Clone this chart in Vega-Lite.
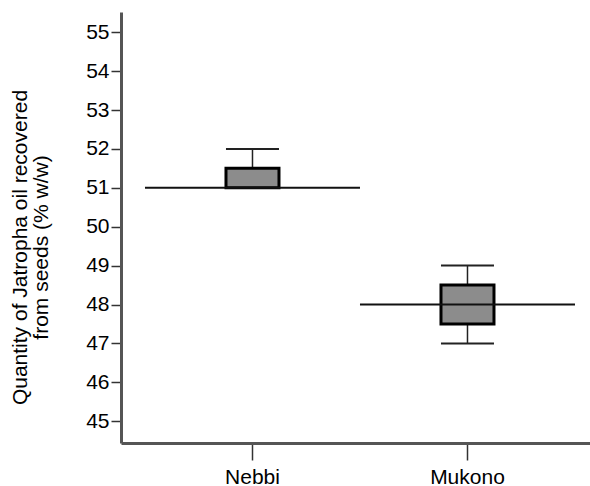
{
  "$schema": "https://vega.github.io/schema/vega-lite/v6.json",
  "width": 469,
  "height": 431,
  "autosize": "none",
  "padding": {"left": 121, "top": 12, "right": 0, "bottom": 43},
  "config": {"view": {"stroke": null}, "font": "Liberation Sans"},
  "data": {"values": [
    {"region": "Nebbi", "lower": 51, "q1": 51, "median": 51, "q3": 51.5, "upper": 52},
    {"region": "Mukono", "lower": 47, "q1": 47.5, "median": 48, "q3": 48.5, "upper": 49}
  ]},
  "encoding": {
    "x": {
      "field": "region", "type": "nominal", "sort": ["Nebbi", "Mukono"],
      "scale": {"paddingInner": 0, "paddingOuter": 0.0907, "align": 0.615},
      "axis": {
        "title": null, "labelAngle": 0, "labelFontSize": 21, "labelColor": "#000",
        "domainColor": "#555", "domainWidth": 3, "tickSize": 17, "tickColor": "#333",
        "tickWidth": 1.5, "labelPadding": 6, "grid": false
      }
    }
  },
  "layer": [
    {
      "mark": {"type": "rule", "color": "#222", "strokeWidth": 1.5},
      "encoding": {
        "y": {
          "field": "lower", "type": "quantitative",
          "scale": {"domain": [44.44, 55.52], "nice": false, "zero": false},
          "axis": {
            "values": [45, 46, 47, 48, 49, 50, 51, 52, 53, 54, 55],
            "title": ["Quantity of Jatropha oil recovered", "from seeds (% w/w)"],
            "titleFontSize": 21, "titleFontWeight": "normal", "titleColor": "#000",
            "titleAngle": -90, "titleAlign": "center", "titleBaseline": "middle",
            "titleLineHeight": 21, "titleX": -101, "titleY": 235,
            "labelFontSize": 21, "labelColor": "#000", "labelPadding": 2,
            "tickSize": 10, "tickColor": "#333", "tickWidth": 1.5,
            "domainColor": "#555", "domainWidth": 3, "grid": false
          }
        },
        "y2": {"field": "upper"}
      }
    },
    {
      "mark": {"type": "tick", "size": 53, "thickness": 2, "color": "#222", "opacity": 1},
      "encoding": {"y": {"field": "upper", "type": "quantitative"}}
    },
    {
      "mark": {"type": "tick", "size": 53, "thickness": 2, "color": "#222", "opacity": 1},
      "encoding": {"y": {"field": "lower", "type": "quantitative"}}
    },
    {
      "mark": {"type": "bar", "width": 53, "fill": "#8c8c8c", "stroke": "#000", "strokeWidth": 3, "opacity": 1},
      "encoding": {
        "y": {"field": "q1", "type": "quantitative"},
        "y2": {"field": "q3"}
      }
    },
    {
      "mark": {"type": "tick", "size": 215, "thickness": 2, "color": "#111", "opacity": 1},
      "encoding": {"y": {"field": "median", "type": "quantitative"}}
    }
  ]
}
